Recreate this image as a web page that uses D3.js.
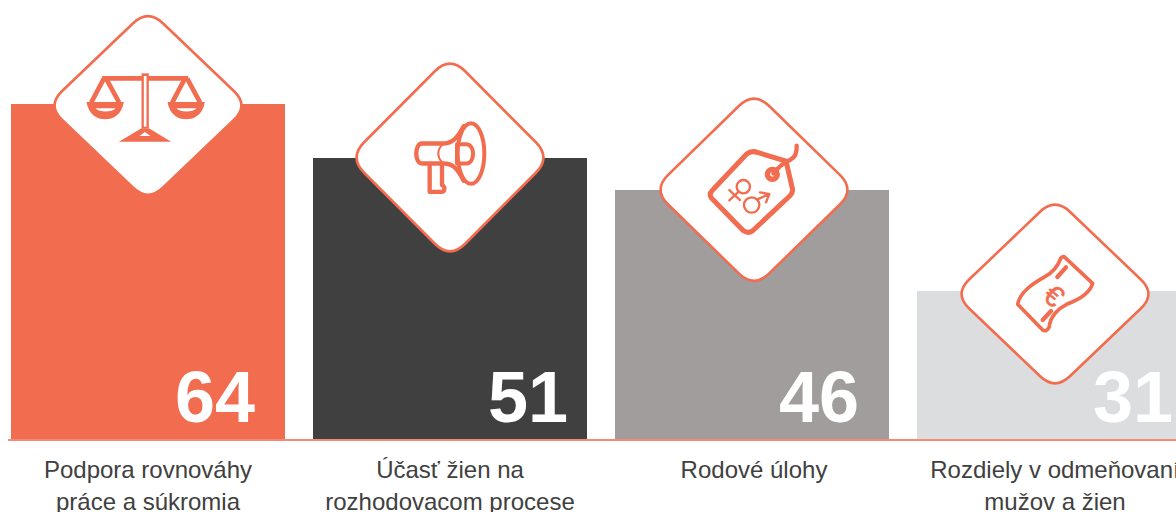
<!DOCTYPE html>
<html>
<head>
<meta charset="utf-8">
<script src="https://cdn.jsdelivr.net/npm/d3@7"></script>
<style>
  html, body { margin: 0; padding: 0; background: #fff; overflow: hidden; }
  svg { display: block; }
  text { font-family: "Liberation Sans", Arial, sans-serif; }
</style>
</head>
<body>
<div id="chart"></div>
<script>
const categories = ["balance", "decision", "roles", "pay"];
const values = [64, 51, 46, 31];
const labels = [
  ["Podpora rovnováhy", "práce a súkromia"],
  ["Účasť žien na", "rozhodovacom procese"],
  ["Rodové úlohy"],
  ["Rozdiely v odmeňovaní", "mužov a žien"]
];
const barColors = ["#f26c4f", "#404040", "#a09d9c", "#dcdddf"];

const accent = "#f26c4f";
const width = 1176, height = 512;
const baseY = 439;

// layout tweaks per column
const valueInset = [30, 19, 30, 18];
const diamondDx = [0, 0, 2, 1];
const diamondDy = [1.5, -0.5, -0.3, 3];
const diamondHalfH = [89, 94, 91, 89];

const svg = d3.select("#chart").append("svg")
  .attr("width", width)
  .attr("height", height);

const x = d3.scaleBand()
  .domain(categories)
  .range([11, 1191])
  .paddingInner(28 / 302);

// the bars in the original are not to scale, so this is piecewise
const y = d3.scaleLinear()
  .domain([0, 31, 46, 51, 64])
  .range([baseY, 291, 190, 158, 104]);

const rows = categories.map((c, i) => ({
  key: c, value: values[i], label: labels[i], color: barColors[i], i
}));

svg.selectAll("rect.bar")
  .data(rows)
  .enter().append("rect")
  .attr("class", "bar")
  .attr("x", d => x(d.key))
  .attr("y", d => y(d.value))
  .attr("width", x.bandwidth())
  .attr("height", d => baseY - y(d.value))
  .attr("fill", d => d.color);

svg.append("line")
  .attr("x1", 8)
  .attr("x2", width)
  .attr("y1", 440)
  .attr("y2", 440)
  .attr("stroke", "#f58b74")
  .attr("stroke-width", 2);

svg.selectAll("text.value")
  .data(rows)
  .enter().append("text")
  .attr("class", "value")
  .attr("x", d => x(d.key) + x.bandwidth() - valueInset[d.i])
  .attr("y", 422)
  .attr("text-anchor", "end")
  .attr("font-size", 72)
  .attr("font-weight", "bold")
  .attr("fill", "#fff")
  .text(d => d.value);

const catLabels = svg.selectAll("text.cat")
  .data(rows)
  .enter().append("text")
  .attr("class", "cat")
  .attr("text-anchor", "middle")
  .attr("font-size", 24)
  .attr("fill", "#404040");

catLabels.selectAll("tspan")
  .data(d => d.label.map(t => ({ t, d })))
  .enter().append("tspan")
  .attr("x", l => x(l.d.key) + x.bandwidth() / 2 + diamondDx[l.d.i])
  .attr("y", (l, j) => 478 + j * 31.5)
  .text(l => l.t);

// rounded diamond, sharp corners pulled back with a curve
function diamondPath(hw, hh) {
  const W = hw + 7.5, H = hh + 7.5, k = 0.15;
  const pts = [[0, -H], [W, 0], [0, H], [-W, 0]];
  let p = "";
  pts.forEach((v, i) => {
    const prev = pts[(i + 3) % 4], next = pts[(i + 1) % 4];
    const a = [v[0] + (prev[0] - v[0]) * k, v[1] + (prev[1] - v[1]) * k];
    const b = [v[0] + (next[0] - v[0]) * k, v[1] + (next[1] - v[1]) * k];
    p += (i == 0 ? "M" : "L") + a + "Q" + v + " " + b;
  });
  return p + "Z";
}

const diamonds = svg.selectAll("g.diamond")
  .data(rows)
  .enter().append("g")
  .attr("class", "diamond")
  .attr("transform", d => `translate(${x(d.key) + x.bandwidth() / 2 + diamondDx[d.i]},${y(d.value) + diamondDy[d.i]})`);

diamonds.append("path")
  .attr("d", d => diamondPath(93.5, diamondHalfH[d.i]))
  .attr("fill", "#fff")
  .attr("stroke", accent)
  .attr("stroke-width", 2.6);

// icons are sketched at 3x, origin given per icon
function iconGroup(i, ox, oy) {
  return diamonds.filter(d => d.i == i).append("g")
    .attr("transform", `scale(${1 / 3}) translate(${-ox},${-oy})`);
}
function solid(g, d, fill) {
  return g.append("path").attr("d", d).attr("fill", fill || accent);
}
function line(g, d, w) {
  return g.append("path").attr("d", d)
    .attr("fill", "none")
    .attr("stroke", accent)
    .attr("stroke-width", w)
    .attr("stroke-linecap", "round")
    .attr("stroke-linejoin", "round");
}

// scales
const scalesIcon = iconGroup(0, 322.5, 316.5);
solid(scalesIcon, "M185,228H443V242H185Z");
solid(scalesIcon, "M303,220H325V385H303Z");
solid(scalesIcon, "M310,228H318V380H310Z", "#fff");
solid(scalesIcon, "M235,425L303,385H325L392,425Z");
solid(scalesIcon, "M297,408L313,396L330,408Z", "#fff");
[0, 243].forEach(dx => {
  const pan = scalesIcon.append("g").attr("transform", `translate(${dx},0)`);
  line(pan, "M190,236L152,308M197,236L236,308", 14).attr("stroke-linecap", "butt");
  solid(pan, "M138,306H250C243,345 218,358 194,358C170,358 145,345 138,306Z");
  solid(pan, "M165,325H225C215,338 175,338 165,325Z", "#fff");
});

// megaphone
const megaIcon = iconGroup(1, 329, 322);
megaIcon.append("ellipse")
  .attr("cx", 392).attr("cy", 310).attr("rx", 40).attr("ry", 91)
  .attr("fill", "none").attr("stroke", accent).attr("stroke-width", 12);
line(megaIcon, "M370,228C350,265 335,280 310,280H245C222,280 222,340 245,340H310C335,340 350,352 370,392", 13);
line(megaIcon, "M305,285C290,300 290,320 305,336", 6);
line(megaIcon, "M350,282H378C405,282 405,340 378,340H350M350,282V340", 12);
line(megaIcon, "M268,342V425H303C315,425 315,410 305,405V342", 13);

// price tag
const tagIcon = iconGroup(2, 312, 314);
line(tagIcon, "M290,207Q305,195 325,203L408,228L427,310Q430,322 420,332L308,437Q295,447 280,437L185,340Q175,328 188,315Z", 15);
tagIcon.append("circle")
  .attr("cx", 367).attr("cy", 268).attr("r", 15)
  .attr("fill", "none").attr("stroke", accent).attr("stroke-width", 16);
line(tagIcon, "M370,265Q395,235 420,225Q442,215 440,182", 13);
tagIcon.append("circle")
  .attr("cx", 280).attr("cy", 305).attr("r", 20)
  .attr("fill", "none").attr("stroke", accent).attr("stroke-width", 7);
line(tagIcon, "M266,320L238,346M238,315L270,345", 7);
tagIcon.append("circle")
  .attr("cx", 305).attr("cy", 360).attr("r", 23)
  .attr("fill", "none").attr("stroke", accent).attr("stroke-width", 7);
line(tagIcon, "M322,343L358,327M330,322L358,327L348,352", 7);

// banknote
const noteIcon = iconGroup(3, 315, 297);
line(noteIcon, "M342,185L428,265C420,295 385,315 350,328C325,340 300,365 298,395Q290,412 278,405L203,328C210,290 250,265 285,245C315,228 325,210 332,190Q336,184 342,185Z", 11);
line(noteIcon, "M348,217L322,246M303,348L278,375", 13);
noteIcon.append("text")
  .attr("transform", "translate(313,301) rotate(40)")
  .attr("text-anchor", "middle")
  .attr("dy", "0.36em")
  .attr("font-size", 88)
  .attr("fill", accent)
  .attr("stroke", accent)
  .attr("stroke-width", 1.5)
  .text("€");
</script>
</body>
</html>
